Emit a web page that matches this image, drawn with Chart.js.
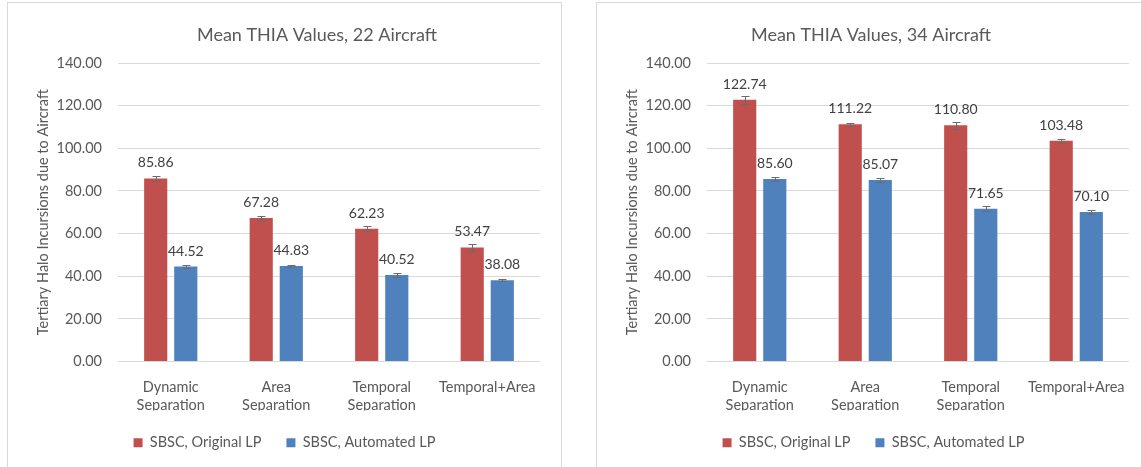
<!DOCTYPE html>
<html>
<head>
<meta charset="utf-8">
<script src="https://cdn.jsdelivr.net/npm/chart.js@4.4.1/dist/chart.umd.min.js"></script>
<style>
  body { margin: 0; background: #fff; width: 1141px; height: 467px; overflow: hidden; position: relative; }
  .box { position: absolute; top: 2px; width: 553px; height: 480px; border: 1px solid #d9d9d9; background: #fff; }
  .box canvas { display: block; }
</style>
</head>
<body>
<div class="box" style="left:7px"><canvas id="c22" width="553" height="470"></canvas></div>
<div class="box" style="left:596px"><canvas id="c34" width="553" height="470"></canvas></div>
<script>
// categories and tick labels
const categories = [['Dynamic', 'Separation'], ['Area', 'Separation'], ['Temporal', 'Separation'], 'Temporal+Area']
const yTicks = [0, 20, 40, 60, 80, 100, 120, 140]

// 22 aircraft
const original22 = [85.86, 67.28, 62.23, 53.47]
const automated22 = [44.52, 44.83, 40.52, 38.08]
const original22Err = [1.1, 0.8, 1.1, 1.5]
const automated22Err = [0.6, 0.6, 0.9, 0.55]

// 34 aircraft
const original34 = [122.74, 111.22, 110.80, 103.48]
const automated34 = [85.60, 85.07, 71.65, 70.10]
const original34Err = [2.0, 0.8, 1.6, 1.1]
const automated34Err = [0.95, 0.95, 1.1, 0.9]

const RED = '#c0504d'
const BLUE = '#4f81bd'
const FONT = 'Lato'

// whiskers, drawn through the y scale
const errorBars = {
  id: 'errorBars',
  afterDatasetsDraw (chart) {
    const { ctx, scales: { y } } = chart
    ctx.save()
    ctx.strokeStyle = '#6b6b6b'
    ctx.lineWidth = 1
    chart.data.datasets.forEach((ds, i) => {
      chart.getDatasetMeta(i).data.forEach((bar, j) => {
        const top = Math.round(y.getPixelForValue(ds.data[j] + ds.errors[j])) + 0.5
        const bot = Math.round(y.getPixelForValue(ds.data[j] - ds.errors[j])) + 0.5
        const x = Math.round(bar.x) + 0.5
        ctx.beginPath()
        ctx.moveTo(x, top); ctx.lineTo(x, bot)
        ctx.moveTo(x - 4, top); ctx.lineTo(x + 4, top)
        ctx.moveTo(x - 4, bot); ctx.lineTo(x + 4, bot)
        ctx.stroke()
      })
    })
    ctx.restore()
  }
}

// value labels over each bar
const valueLabels = {
  id: 'valueLabels',
  afterDatasetsDraw (chart) {
    const { ctx } = chart
    ctx.save()
    ctx.font = '14px ' + FONT
    ctx.fillStyle = '#404040'
    ctx.textAlign = 'center'
    ctx.textBaseline = 'alphabetic'
    chart.data.datasets.forEach((ds, i) => {
      chart.getDatasetMeta(i).data.forEach((bar, j) => {
        ctx.fillText(ds.data[j].toFixed(2), bar.x, bar.y - 11)
      })
    })
    ctx.restore()
  }
}

// chart title, placed where the reference has it
const sideTitle = {
  id: 'sideTitle',
  afterDraw (chart, args, opts) {
    const { ctx } = chart
    ctx.save()
    ctx.font = '18px ' + FONT
    ctx.fillStyle = '#595959'
    ctx.textAlign = 'center'
    ctx.textBaseline = 'alphabetic'
    ctx.fillText(opts.text, opts.x, opts.y)
    ctx.restore()
  }
}

function makeChart (id, title, titleX, original, originalErr, automated, automatedErr) {
  return new Chart(document.getElementById(id), {
    type: 'bar',
    data: {
      labels: categories,
      datasets: [{
        label: 'SBSC, Original LP',
        data: original,
        errors: originalErr,
        backgroundColor: RED
      }, {
        label: 'SBSC, Automated LP',
        data: automated,
        errors: automatedErr,
        backgroundColor: BLUE
      }]
    },
    plugins: [errorBars, valueLabels, sideTitle],
    options: {
      responsive: false,
      animation: false,
      categoryPercentage: 0.57,
      barPercentage: 0.77,
      layout: {
        padding: { top: 60, right: 0, left: 0, bottom: 13 }
      },
      plugins: {
        sideTitle: { text: title, x: titleX, y: 38 },
        tooltip: { enabled: false },
        legend: {
          position: 'bottom',
          labels: {
            boxWidth: 9,
            boxHeight: 9,
            padding: 25,
            color: '#595959',
            font: { family: FONT, size: 14.5 }
          }
        }
      },
      scales: {
        x: {
          afterFit: s => { s.height = 49 },
          grid: { display: false },
          border: { display: false },
          ticks: {
            color: '#595959',
            padding: 8,
            maxRotation: 0,
            font: { family: FONT, size: 14.5, lineHeight: 1.3 }
          }
        },
        y: {
          min: 0,
          max: 140,
          afterFit: s => { s.width = 110 },
          afterBuildTicks: s => { s.ticks = yTicks.map(v => ({ value: v })) },
          grid: { color: '#d9d9d9', drawTicks: false },
          border: { display: false },
          ticks: {
            color: '#595959',
            padding: 16,
            font: { family: FONT, size: 14.5 },
            callback: v => v.toFixed(2)
          },
          title: {
            display: true,
            text: 'Tertiary Halo Incursions due to Aircraft',
            color: '#595959',
            padding: { top: 27 },
            font: { family: FONT, size: 14.5 }
          }
        },
        // empty right margin so the legend centres on the whole box
        yRight: {
          position: 'right',
          afterFit: s => { s.width = 21 },
          grid: { display: false },
          border: { display: false },
          ticks: { display: false }
        }
      }
    }
  })
}

makeChart('c22', 'Mean THIA Values, 22 Aircraft', 309, original22, original22Err, automated22, automated22Err)
makeChart('c34', 'Mean THIA Values, 34 Aircraft', 274, original34, original34Err, automated34, automated34Err)
</script>
</body>
</html>
